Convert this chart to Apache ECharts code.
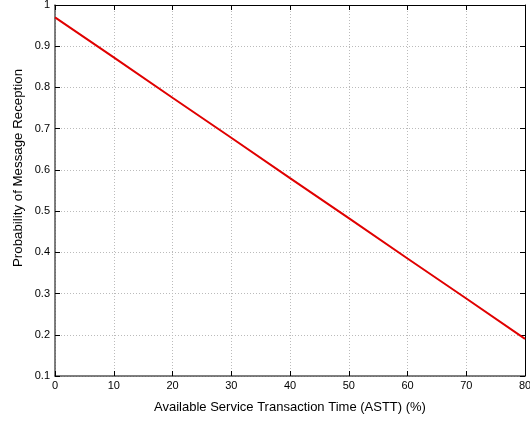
<!DOCTYPE html>
<html>
<head>
<meta charset="utf-8">
<script src="https://cdn.jsdelivr.net/npm/echarts@6/dist/echarts.min.js"></script>
<style>html,body{margin:0;padding:0;background:#fff}#c{width:530px;height:422px}</style>
</head>
<body>
<div id="c"></div>
<script>
var xValues = [0, 10, 20, 30, 40, 50, 60, 70, 80];
var probValues = [0.97, 0.873, 0.775, 0.678, 0.58, 0.483, 0.385, 0.288, 0.19];
var xTitle = 'Available Service Transaction Time (ASTT) (%)';
var yTitle = 'Probability of Message Reception';

var chart = echarts.init(document.getElementById('c'), null, {renderer: 'canvas'});
var font = 'Liberation Sans, Arial, sans-serif';
var data = xValues.map(function (x, i) { return [x, probValues[i]]; });
chart.setOption({
  animation: false,
  grid: {left: 55, right: 5, top: 5, bottom: 46, containLabel: false, outerBoundsMode: 'none'},
  graphic: [{
    type: 'text', x: 18, y: 168, rotation: Math.PI / 2,
    style: {text: yTitle, fontFamily: font, fontSize: 13.3, fill: '#000',
      textAlign: 'center', textVerticalAlign: 'middle'}
  }],
  xAxis: [{
    type: 'value', min: 0, max: 80, interval: 10, position: 'bottom',
    name: xTitle, nameLocation: 'middle', nameGap: 25,
    nameTextStyle: {fontFamily: font, fontSize: 13, color: '#000'},
    axisLine: {lineStyle: {color: '#555', width: 1.5}},
    axisTick: {inside: true, length: 5, lineStyle: {color: '#000'}},
    axisLabel: {fontFamily: font, fontSize: 11, color: '#000', margin: 4, hideOverlap: false},
    splitLine: {show: true, lineStyle: {color: '#bbb', type: [1, 2], width: 1}}
  }, {
    type: 'value', min: 0, max: 80, interval: 10, position: 'top',
    axisLine: {show: true, onZero: false, lineStyle: {color: '#000', width: 1}},
    axisTick: {inside: true, length: 5, lineStyle: {color: '#000'}},
    axisLabel: {show: false}, splitLine: {show: false}
  }],
  yAxis: [{
    type: 'value', min: 0.1, max: 1, interval: 0.1, position: 'left',
    axisLine: {show: true, lineStyle: {color: '#555', width: 1.5}},
    axisTick: {show: true, inside: true, length: 5, lineStyle: {color: '#000'}},
    axisLabel: {fontFamily: font, fontSize: 11, color: '#000', margin: 5,
      formatter: function (v) { return +v.toFixed(1) + ''; }},
    splitLine: {show: true, lineStyle: {color: '#bbb', type: [1, 2], width: 1}}
  }, {
    type: 'value', min: 0.1, max: 1, interval: 0.1, position: 'right',
    axisLine: {show: true, onZero: false, lineStyle: {color: '#000', width: 1}},
    axisTick: {show: true, inside: true, length: 5, lineStyle: {color: '#000'}},
    axisLabel: {show: false}, splitLine: {show: false}
  }],
  series: [{
    type: 'line', data: data, xAxisIndex: 0, yAxisIndex: 0,
    showSymbol: false, symbol: 'none',
    lineStyle: {color: '#e00000', width: 2}
  }]
});
</script>
</body>
</html>
